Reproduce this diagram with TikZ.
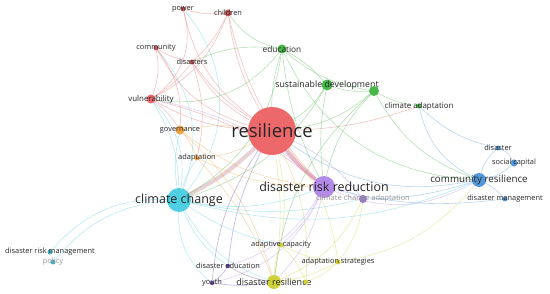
\documentclass[tikz,border=0pt]{standalone}
\usepackage{fontspec}
\setmainfont{Open Sans}
\definecolor{cred}{RGB}{236,104,106}
\definecolor{cgreen}{RGB}{72,185,72}
\definecolor{ccyan}{RGB}{78,208,226}
\definecolor{cpurple}{RGB}{180,138,232}
\definecolor{cblue}{RGB}{82,152,220}
\definecolor{cyellow}{RGB}{206,208,60}
\definecolor{corange}{RGB}{242,165,70}
\definecolor{cdpurple}{RGB}{112,72,176}
\definecolor{cband}{RGB}{222,190,196}
\pgfdeclarelayer{bg}
\pgfdeclarelayer{edges}
\pgfsetlayers{bg,edges,main}
\begin{document}
\begin{tikzpicture}[x=1pt,y=-1pt,
  kw/.style={circle, inner sep=0pt, draw=none},
  lab/.style={text=black!85, font=\fontsize{7.4}{8}\selectfont, inner sep=0pt},
  flab/.style={text=black!40, font=\fontsize{7.6}{8}\selectfont, inner sep=0pt},
  ed/.style={line width=0.6pt, draw opacity=0.4},
  thick band/.style={line width=4pt, draw opacity=0.7}]
\begin{pgfonlayer}{bg}
\fill[white] (0,0) rectangle (550,294);
\end{pgfonlayer}
\useasboundingbox (0,0) rectangle (550,294);
% nodes
\node[kw, fill=cred, minimum size=48pt, label={[lab,font=\fontsize{18.5}{20}\selectfont]center:resilience}] (res) at (272,131) {};
\node[kw, fill=ccyan, minimum size=24pt, label={[lab,font=\fontsize{12.5}{14}\selectfont]center:climate change}] (cc) at (179,200) {};
\node[kw, fill=cpurple, minimum size=22pt, label={[lab,font=\fontsize{12.5}{14}\selectfont]center:disaster risk reduction}] (drr) at (324,187) {};
\node[kw, fill=cblue, minimum size=14pt, label={[lab,font=\fontsize{9.8}{11}\selectfont]center:community resilience}] (cr) at (479,180) {};
\node[kw, fill=cyellow, minimum size=14pt, label={[lab,font=\fontsize{9}{10}\selectfont]center:disaster resilience}] (dres) at (274,282) {};
\node[kw, fill=cgreen, minimum size=9pt, label={[lab,font=\fontsize{8.3}{9}\selectfont]center:education}] (edu) at (282,49) {};
\node[kw, fill=cgreen, minimum size=11pt, label={[lab,font=\fontsize{8.8}{9}\selectfont]center:sustainable development}] (sd) at (327,85) {};
\node[kw, fill=cgreen, minimum size=10pt] (gx) at (374,91) {};
\node[kw, fill=cgreen, minimum size=5pt, label={[lab,font=\fontsize{7.9}{9}\selectfont]center:climate adaptation}] (ca) at (419,106) {};
\node[kw, fill=cblue, minimum size=5pt, label={[lab]center:disaster}] (dis) at (498,148) {};
\node[kw, fill=cblue, minimum size=7pt, label={[lab]center:social capital}] (sc) at (514,163) {};
\node[kw, fill=cblue, minimum size=5pt, label={[lab]center:disaster management}] (dm) at (505,199) {};
\node[kw, fill=cpurple!85!black, minimum size=8pt, label={[flab]center:climate change adaptation}] (cca) at (363,199) {};
\node[kw, fill=cred!85!black, minimum size=5pt, label={[lab]center:power}] (pow) at (183,9) {};
\node[kw, fill=cred!85!black, minimum size=7pt, label={[lab]center:children}] (chi) at (228,13) {};
\node[kw, fill=cred!85!black, minimum size=5pt, label={[lab]center:community}] (com) at (156,48) {};
\node[kw, fill=cred!85!black, minimum size=5pt, label={[lab]center:disasters}] (dss) at (192,62) {};
\node[kw, fill=cred, minimum size=9pt, label={[lab,font=\fontsize{7.9}{9}\selectfont]center:vulnerability}] (vul) at (151,99) {};
\node[kw, fill=corange, minimum size=9pt, label={[lab]center:governance}] (gov) at (180,130) {};
\node[kw, fill=corange, minimum size=5pt, label={[lab]center:adaptation}] (ada) at (197,158) {};
\node[kw, fill=ccyan!85!black, minimum size=5pt, label={[lab]center:disaster risk management}] (drm) at (50,252) {};
\node[kw, fill=ccyan!85!black, minimum size=5pt, label={[flab]center:policy}] (pol) at (53,262) {};
\node[kw, fill=cyellow, minimum size=5pt, label={[lab]center:adaptive capacity}] (ac) at (281,245) {};
\node[kw, fill=cyellow, minimum size=5pt, label={[lab]center:adaptation strategies}] (as) at (338,262) {};
\node[kw, fill=cdpurple, minimum size=4.5pt, label={[lab]center:disaster education}] (de) at (228,266) {};
\node[kw, fill=cdpurple, minimum size=4.5pt, label={[lab]center:youth}] (you) at (212,283) {};
\node[kw, fill=cyellow, minimum size=5pt] (dy) at (306,282) {};
% edges
\begin{pgfonlayer}{edges}
\draw[thick band, cband] (res) to[bend left=8] (cc);
\draw[thick band, cred!60!cpurple!70] (res) to[bend right=6] (drr);
\foreach \a/\b/\c/\k in {
  res/pow/cred/20, res/chi/cred/10, res/com/cred/22, res/dss/cred/15, res/vul/cred/12,
  res/gov/corange/-8, res/ada/corange/12, res/edu/cgreen/8, res/sd/cgreen/-12,
  res/gx/cgreen/-15, res/ca/cred/-8, res/cr/cblue/-22, res/dres/cyellow/8,
  res/ac/cyellow/10, res/cca/cpurple/12, res/de/cdpurple/-10, res/you/cdpurple/-14,
  res/dy/cyellow/14, res/as/cyellow/16,
  pow/vul/cred/35, pow/chi/cred/-10, chi/dss/cred/10, chi/vul/cred/20, chi/edu/cgreen/-20,
  com/vul/cred/15, com/dss/cred/-10, dss/vul/cred/10, dss/edu/cgreen/15, vul/gov/cred/10,
  vul/drr/cred/12, vul/cc/ccyan/25, com/cc/ccyan/30, pow/cc/ccyan/40, chi/drr/cred/-15,
  dss/ada/cred/15, com/gov/cred/20, dss/res/cred/-10,
  edu/sd/cgreen/10, edu/gx/cgreen/-15, edu/cc/cgreen/25, edu/drr/cgreen/-10, edu/cr/cgreen/-30,
  sd/gx/cgreen/-10, sd/cc/cgreen/20, sd/drr/cgreen/-8, gx/ca/cgreen/-10, gx/cr/cgreen/-20,
  gx/drr/cgreen/-15, gx/dres/cgreen/-20, ca/cr/cblue/-25, ca/dis/cblue/-15, edu/vul/cgreen/30,
  cc/drm/ccyan/-25, cc/pol/ccyan/-22, cc/drr/ccyan/-15, cc/dres/ccyan/-20, cc/de/ccyan/-15,
  cc/you/ccyan/-25, cc/gov/ccyan/10, cc/ada/ccyan/8, cc/cr/ccyan/-18, cc/ac/ccyan/-10,
  cc/cca/ccyan/-12, cc/vul/ccyan/-15,
  drr/cr/cpurple/-25, drr/cca/cpurple/10, drr/dres/cpurple/15, drr/you/cpurple/25,
  drr/de/cpurple/20, drr/ac/cpurple/10, drr/dm/cblue/-10, drr/vul/cpurple/-15,
  cr/dis/cblue/15, cr/sc/cblue/-15, cr/dm/cblue/10, dis/sc/cblue/20, cr/cca/cblue/8,
  dres/ac/cyellow/10, dres/as/cyellow/-10, dres/dy/cyellow/10, ac/as/cyellow/-10,
  as/cca/cyellow/-15, dres/cca/cyellow/-20, ac/dy/cyellow/10, as/dy/cyellow/10,
  as/cr/cyellow/-20, dres/de/cdpurple/10, you/dres/cdpurple/-8, de/you/cdpurple/10,
  gov/ada/corange/10, gov/drr/corange/-15, ada/drr/corange/-12, gov/dres/corange/15,
  ada/dres/corange/10}
  {\draw[ed, draw=\c] (\a) to[bend left=\k] (\b);}
\end{pgfonlayer}
\end{tikzpicture}
\end{document}
